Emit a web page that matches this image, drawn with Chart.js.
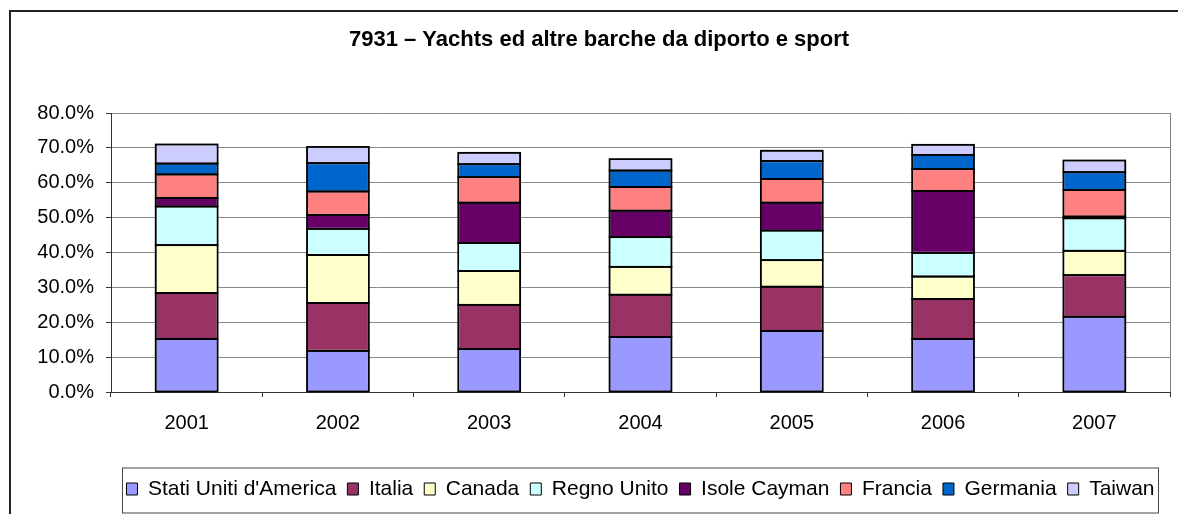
<!DOCTYPE html>
<html>
<head>
<meta charset="utf-8">
<script src="https://cdn.jsdelivr.net/npm/chart.js@4/dist/chart.umd.min.js"></script>
<style>
  html, body { margin: 0; padding: 0; background: #fff; overflow: hidden; }
  #wrap { position: relative; width: 1178px; height: 514px; }
  #frame { position: absolute; left: 9px; top: 10px; width: 1300px; height: 700px; border: 2px solid #222; }
  #myChart { position: absolute; left: 0; top: 0; }
</style>
</head>
<body>
<div id="wrap">
  <div id="frame"></div>
  <canvas id="myChart" width="1178" height="514"></canvas>
</div>
<script>
const years = ['2001', '2002', '2003', '2004', '2005', '2006', '2007'];

// quota % per paese
const statiUniti = [15.2, 11.8, 12.3, 15.8, 17.5, 15.2, 21.6];
const italia     = [13.2, 13.7, 12.7, 12.1, 12.7, 11.5, 11.9];
const canada     = [13.7, 13.8,  9.7,  8.0,  7.6,  6.4,  7.0];
const regnoUnito = [11.1,  7.5,  8.0,  8.5,  8.5,  6.8,  9.3];
const cayman     = [ 2.4,  4.0, 11.6,  7.6,  8.0, 17.7,  0.5];
const francia    = [ 6.8,  6.7,  7.3,  6.8,  6.8,  6.3,  7.6];
const germania   = [ 3.1,  8.1,  3.7,  4.7,  5.1,  4.1,  5.1];
const taiwan     = [ 5.5,  4.7,  3.3,  3.3,  3.0,  2.9,  3.4];

const yTicks = [0, 10, 20, 30, 40, 50, 60, 70, 80];

const FONT = "'Liberation Sans', Arial, sans-serif";

function serie(label, data, color) {
    return {
        label: label,
        data: data,
        backgroundColor: color,
        borderColor: '#000',
        borderWidth: 1,
        borderSkipped: false,
        inflateAmount: 0,
        categoryPercentage: 1,
        barPercentage: 0.41
    };
}

// bordo destro dell'area, contorno uniforme delle barre, riquadro della legenda
const framePlugin = {
    id: 'framePlugin',
    beforeDatasetsDraw(chart) {
        const {ctx, chartArea} = chart;
        ctx.save();
        ctx.strokeStyle = '#808080';
        ctx.lineWidth = 1;
        ctx.beginPath();
        ctx.moveTo(chartArea.right + 0.5, chartArea.top);
        ctx.lineTo(chartArea.right + 0.5, chartArea.bottom);
        ctx.stroke();
        ctx.restore();
    },
    afterDatasetsDraw(chart) {
        const ctx = chart.ctx;
        ctx.save();
        ctx.strokeStyle = '#000';
        ctx.lineWidth = 1.6;
        chart.data.datasets.forEach((ds, i) => {
            chart.getDatasetMeta(i).data.forEach(bar => {
                const top = Math.min(bar.y, bar.base);
                const h = Math.abs(bar.base - bar.y);
                ctx.strokeRect(bar.x - bar.width / 2, top, bar.width, h);
            });
        });
        ctx.restore();
    },
    afterDraw(chart) {
        const lg = chart.legend;
        const ctx = chart.ctx;
        ctx.save();
        ctx.strokeStyle = '#444';
        ctx.lineWidth = 1;
        ctx.strokeRect(lg.left + 11.5, lg.top + 0.5, lg.right - lg.left - 23, lg.bottom - lg.top + 3);
        ctx.restore();
    }
};

const ctx = document.getElementById('myChart');

new Chart(ctx, {
    type: 'bar',
    data: {
        labels: years,
        datasets: [
            serie("Stati Uniti d'America", statiUniti, '#9999FF'),
            serie('Italia', italia, '#993366'),
            serie('Canada', canada, '#FFFFCC'),
            serie('Regno Unito', regnoUnito, '#CCFFFF'),
            serie('Isole Cayman', cayman, '#660066'),
            serie('Francia', francia, '#FF8080'),
            serie('Germania', germania, '#0066CC'),
            serie('Taiwan', taiwan, '#CCCCFF')
        ]
    },
    options: {
        responsive: false,
        animation: false,
        layout: {
            padding: { left: 28, right: 8, top: 0, bottom: 4.5 }
        },
        scales: {
            x: {
                stacked: true,
                afterFit: (scale) => { scale.height = 75.5; },
                grid: {
                    display: true,
                    offset: true,
                    drawOnChartArea: false,
                    tickLength: 5,
                    color: '#333'
                },
                border: { color: '#333', width: 1 },
                ticks: {
                    color: '#000',
                    padding: 14,
                    font: { family: FONT, size: 20 }
                }
            },
            y: {
                stacked: true,
                min: 0,
                max: 80,
                afterFit: (scale) => { scale.width = 83; },
                afterBuildTicks: (scale) => {
                    scale.ticks = yTicks.map(v => ({ value: v }));
                },
                grid: {
                    color: '#888',
                    lineWidth: 1,
                    tickLength: 5,
                    tickColor: '#333'
                },
                border: { color: '#333', width: 1 },
                ticks: {
                    color: '#000',
                    padding: 12,
                    font: { family: FONT, size: 20 },
                    callback: (v) => v.toFixed(1) + '%'
                }
            }
        },
        plugins: {
            tooltip: { enabled: false },
            title: {
                display: true,
                text: '7931 \u2013 Yachts ed altre barche da diporto e sport',
                color: '#000',
                font: { family: FONT, size: 22, weight: 'bold' },
                padding: { top: 26.8, bottom: 59.8 }
            },
            legend: {
                display: true,
                position: 'bottom',
                fullSize: false,
                labels: {
                    color: '#000',
                    boxWidth: 11,
                    boxHeight: 12,
                    padding: 11,
                    font: { family: FONT, size: 21 }
                }
            }
        }
    },
    plugins: [framePlugin]
});
</script>
</body>
</html>
